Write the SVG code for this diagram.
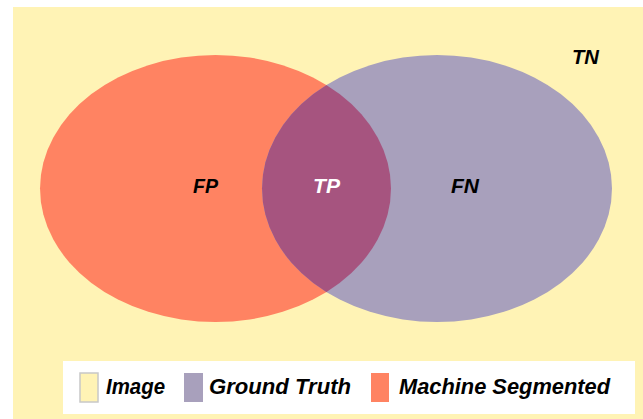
<svg xmlns="http://www.w3.org/2000/svg" width="643" height="419" viewBox="0 0 643 419">
<style>
.lbl{font-family:"Liberation Sans",Arial,sans-serif;font-weight:bold;font-style:italic;font-size:21px;fill:#000}
.leg{font-family:"Liberation Sans",Arial,sans-serif;font-weight:bold;font-style:italic;font-size:22px;fill:#000}
</style>
<defs>
<clipPath id="redClip"><ellipse cx="215.5" cy="188.5" rx="175.5" ry="133.5"/></clipPath>
</defs>
<rect x="0" y="0" width="643" height="419" fill="#ffffff"/>
<g id="image">
<rect x="13" y="7" width="630" height="412" fill="#FFF3B5"/>
</g>
<g id="machine-segmented">
<ellipse cx="215.5" cy="188.5" rx="175.5" ry="133.5" fill="#FF8362"/>
</g>
<g id="ground-truth">
<ellipse cx="437" cy="188.5" rx="175" ry="133.5" fill="#A8A0BC"/>
</g>
<g id="intersection">
<ellipse cx="437" cy="188.5" rx="175" ry="133.5" fill="#A6547F" clip-path="url(#redClip)"/>
</g>
<g id="labels">
<text class="lbl" x="193" y="193" textLength="25" lengthAdjust="spacingAndGlyphs">FP</text>
<text class="lbl" x="313" y="193" textLength="27" lengthAdjust="spacingAndGlyphs" style="fill:#ffffff">TP</text>
<text class="lbl" x="451" y="193" textLength="28" lengthAdjust="spacingAndGlyphs">FN</text>
<text class="lbl" x="572" y="64" textLength="27" lengthAdjust="spacingAndGlyphs">TN</text>
</g>
<g id="legend">
<rect x="63" y="361" width="572" height="53" fill="#ffffff"/>
<rect x="80" y="373" width="18" height="29" fill="#FFF3B5" stroke="#C8C8C8" stroke-width="1.5"/>
<text class="leg" x="106" y="394" textLength="59" lengthAdjust="spacingAndGlyphs">Image</text>
<rect x="184" y="373" width="19" height="29" fill="#A8A0BC"/>
<text class="leg" x="209" y="394" textLength="142" lengthAdjust="spacingAndGlyphs">Ground Truth</text>
<rect x="371" y="373" width="18" height="29" fill="#FF8362"/>
<text class="leg" x="399" y="394" textLength="211" lengthAdjust="spacingAndGlyphs">Machine Segmented</text>
</g>
</svg>
